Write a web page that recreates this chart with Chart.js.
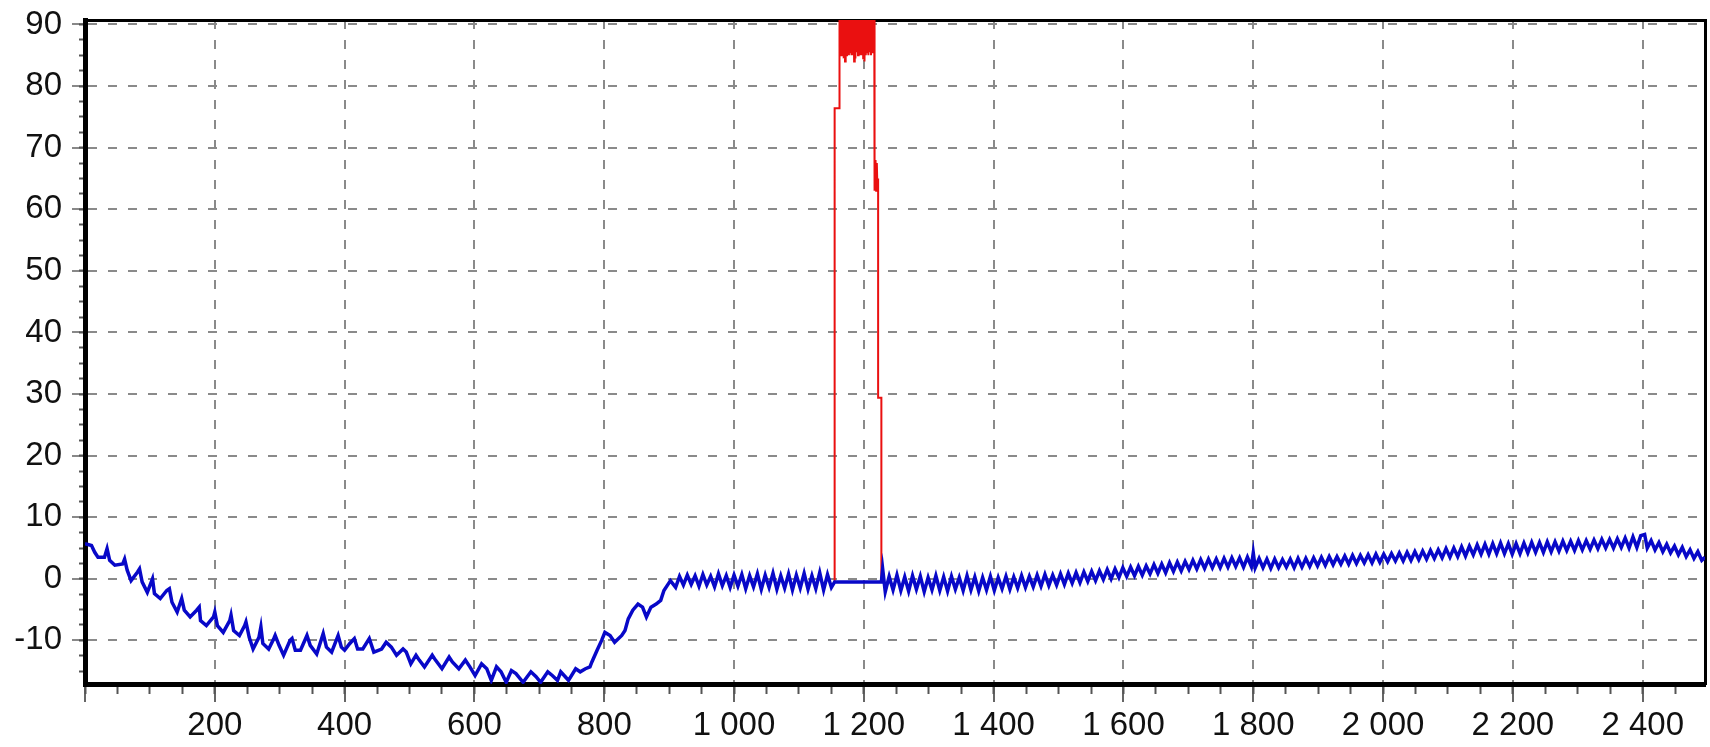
<!DOCTYPE html>
<html><head><meta charset="utf-8">
<script src="https://cdn.jsdelivr.net/npm/chart.js@4.4.1/dist/chart.umd.min.js"></script>
<style>html,body{margin:0;padding:0;background:#fff;overflow:hidden}canvas{display:block}</style>
</head><body>
<canvas id="c" width="1710" height="747"></canvas>
<script>
// ---- axis ranges and ticks ----
const X_MIN = 0, X_MAX = 2496;
const Y_MIN = -17.08, Y_MAX = 90.73;
const X_MAJOR = 200, X_MINOR = 50, Y_MAJOR = 10, Y_MINOR = 2.5;

// ---- blue series [x, y] ----
const blueLeft = [[0,5.7],[10,5.4],[15,4.3],[20,3.5],[30,3.5],[34,4.9],[38,3.0],[46,2.2],[58,2.4],[61,3.2],
[65,1.4],[71,-0.3],[81,1.1],[84,1.6],[88,-0.5],[96,-2.2],[104,0.0],[107,-2.4],[116,-3.2],[126,-1.9],
[130,-1.6],[134,-3.8],[142,-5.4],[149,-3.2],[153,-5.1],[162,-6.2],[172,-5.1],[176,-4.6],[178,-6.8],[187,-7.6],
[198,-6.2],[200,-5.4],[204,-7.6],[213,-8.7],[223,-6.8],[225,-5.9],[229,-8.4],[238,-9.2],[246,-7.6],[248,-7.0],
[253,-9.5],[259,-11.4],[268,-9.5],[271,-7.8],[274,-10.5],[283,-11.4],[291,-9.7],[293,-9.2],[299,-10.8],[306,-12.4],
[316,-10.0],[319,-9.7],[324,-11.6],[332,-11.6],[342,-9.2],[347,-10.8],[357,-12.2],[367,-8.9],[372,-11.1],[380,-11.9],
[390,-9.2],[395,-11.1],[400,-11.6],[408,-10.5],[415,-9.7],[420,-11.4],[428,-11.4],[438,-9.7],[445,-11.9],[457,-11.4],
[464,-10.3],[472,-11.1],[480,-12.4],[490,-11.4],[495,-11.9],[502,-13.8],[510,-12.4],[515,-13.2],[523,-14.3],[535,-12.4],
[540,-13.2],[550,-14.6],[561,-12.7],[566,-13.5],[576,-14.6],[586,-13.2],[593,-14.3],[601,-15.7],[611,-13.8],[619,-14.6],
[626,-16.5],[634,-14.3],[641,-15.1],[649,-16.8],[657,-14.9],[664,-15.4],[675,-16.8],[687,-15.1],[695,-15.9],[702,-16.8],
[713,-15.1],[720,-15.7],[728,-16.5],[733,-15.1],[740,-15.9],[745,-16.5],[756,-14.6],[763,-15.1],[771,-14.6],[778,-14.3],
[781,-13.5],[789,-11.6],[796,-10.0],[801,-8.7],[809,-9.2],[816,-10.3],[827,-9.2],[832,-8.4],[837,-6.5],[844,-5.1],
[852,-4.1],[859,-4.6],[865,-6.2],[872,-4.6],[880,-4.1],[887,-3.5],[892,-1.9],[902,-0.3],[910,-1.4]];

const blueMid = [[916,0.4],[922,-1.0],[928,0.6],[934,-0.9],[940,0.5],[946,-1.2],[952,0.7],[958,-1.0],[964,0.4],[970,-1.3],
[976,0.8],[982,-1.1],[988,0.5],[994,-1.4],[1000,0.6],[1006,-1.2],[1012,0.7],[1018,-1.6],[1024,0.5],[1030,-1.3],
[1036,0.8],[1042,-1.7],[1048,0.6],[1054,-1.4],[1060,0.9],[1066,-1.7],[1072,0.5],[1078,-1.5],[1084,0.8],[1090,-1.8],
[1096,0.6],[1102,-1.5],[1108,0.9],[1114,-1.7],[1120,0.5],[1126,-1.6],[1132,1.0],[1138,-1.8],[1144,0.7],[1150,-1.4],
[1155,-0.5],[1227,-0.5],[1229,1.6],[1233,-2.1],[1239,0.4],[1245,-1.8],[1251,0.6],[1257,-1.9],[1263,0.3],[1269,-2.0],
[1275,0.5],[1281,-1.7],[1287,0.4],[1293,-2.1],[1299,0.2],[1305,-1.8],[1311,0.5],[1317,-1.9],[1323,0.3],[1329,-2.0],
[1335,0.4],[1341,-1.7],[1347,0.2],[1353,-1.9],[1359,0.5],[1365,-1.8],[1371,0.3],[1377,-2.0],[1383,0.2],[1389,-1.8],
[1395,0.4],[1401,-1.9],[1407,0.2],[1413,-1.6],[1419,0.4],[1425,-1.7],[1431,0.3],[1437,-1.5],[1443,0.5],[1449,-1.4],
[1455,0.4],[1461,-1.3],[1467,0.6],[1473,-1.2],[1479,0.7],[1485,-1.1],[1491,0.6],[1497,-1.0],[1503,0.8],[1509,-0.9],
[1515,0.9],[1521,-0.7],[1527,1.0],[1533,-0.6],[1539,1.1],[1545,-0.4],[1551,1.2],[1557,-0.3],[1563,1.3],[1569,-0.1],
[1575,1.5],[1581,0.0],[1587,1.6],[1593,0.2],[1599,1.8]];

const blueRight = [[1605,0.4],[1611,1.9],[1617,0.5],[1623,2.0],[1629,0.6],[1635,2.1],[1641,0.8],[1647,2.3],[1653,0.9],[1659,2.4],
[1665,1.0],[1671,2.6],[1677,1.2],[1683,2.7],[1689,1.3],[1695,2.8],[1701,1.5],[1707,3.0],[1713,1.6],[1719,3.1],
[1725,1.7],[1731,3.2],[1737,1.8],[1743,3.2],[1749,1.8],[1755,3.3],[1761,1.9],[1767,3.4],[1773,2.0],[1779,3.4],
[1785,1.9],[1791,3.5],[1797,2.0],[1800,4.2],[1803,1.8],[1809,3.3],[1815,1.8],[1821,3.2],[1827,1.7],[1833,3.2],
[1839,1.8],[1845,3.1],[1851,1.9],[1857,3.2],[1863,1.8],[1869,3.3],[1875,1.9],[1881,3.3],[1887,2.0],[1893,3.4],
[1899,2.1],[1905,3.5],[1911,2.2],[1917,3.6],[1923,2.3],[1929,3.6],[1935,2.4],[1941,3.7],[1947,2.4],[1953,3.8],
[1959,2.5],[1965,3.8],[1971,2.6],[1977,3.9],[1983,2.6],[1989,4.0],[1995,2.7],[2001,4.0],[2007,2.8],[2013,4.1],
[2019,2.9],[2025,4.2],[2031,2.9],[2037,4.3],[2043,3.0],[2049,4.4],[2055,3.1],[2061,4.5],[2067,3.2],[2073,4.6],
[2079,3.3],[2085,4.7],[2091,3.4],[2097,4.9],[2103,3.5],[2109,5.0],[2115,3.6],[2121,5.2],[2127,3.7],[2133,5.3],
[2139,3.9],[2145,5.5],[2151,4.0],[2157,5.6],[2163,4.0],[2169,5.7],[2175,4.1],[2181,5.8],[2187,4.1],[2193,5.7],
[2199,4.0],[2205,5.7],[2211,4.1],[2217,5.8],[2223,4.2],[2229,5.9],[2235,4.3],[2241,5.9],[2247,4.3],[2253,6.0],
[2259,4.4],[2265,6.0],[2271,4.5],[2277,6.1],[2283,4.6],[2289,6.1],[2295,4.6],[2301,6.2],[2307,4.7],[2313,6.2],
[2319,4.8],[2325,6.3],[2331,4.9],[2337,6.4],[2343,5.0],[2349,6.4],[2355,5.0],[2361,6.5],[2367,5.1],[2373,6.6],
[2379,5.0],[2385,6.8],[2391,5.1],[2397,7.0],[2403,7.2],[2407,5.0],[2413,6.2],[2419,4.7],[2425,5.9],[2431,4.4],
[2437,5.6],[2443,4.2],[2449,5.3],[2455,3.9],[2461,5.1],[2467,3.6],[2473,4.7],[2479,3.3],[2485,4.4],[2491,3.0],[2496,3.5]];

// ---- red series [x, y] (only in the 1155..1227 window) ----
const redRise = [[1155,-0.5],[1155,76.4],[1162,76.4],[1162,95]];
const redTop = [[1163,85.5],[1164,95],[1165,85],[1166,95],[1167,85.5],[1168,95],[1169,84.5],[1170,95],[1171,84],[1172,95],
[1173,85],[1174,95],[1175,85.5],[1176,95],[1177,85],[1178,95],[1179,85.5],[1180,95],[1181,85],[1182,95],
[1183,85],[1184,95],[1185,84],[1186,95],[1187,84.5],[1188,95],[1189,85.5],[1190,95],[1191,85],[1192,95],
[1193,85.5],[1194,95],[1195,85],[1196,95],[1197,85],[1198,95],[1199,84.5],[1200,95],[1201,84],[1202,95],
[1203,85],[1204,95],[1205,85.5],[1206,95],[1207,85],[1208,95],[1209,85.5],[1210,95],[1211,85],[1212,95],
[1213,85.5],[1214,95],[1215,86],[1216,95]];
const redFall = [[1216,68],[1217,63],[1218,68],[1219,63],[1220,67.5],[1221,63],[1222,65],[1222,29.4],[1227,29.4],[1227,-0.5]];

const toPts = arr => arr.map(p => ({x: p[0], y: p[1]}));
const blueData = toPts(blueLeft.concat(blueMid, blueRight));
const redData = toPts(redRise.concat(redTop, redFall));

const FONT = {family: "'Liberation Sans', Arial, sans-serif", size: 33};
const inRange = s => { s.ticks = s.ticks.filter(t => t.value >= s.min - 1e-9 && t.value <= s.max + 1e-9); };
const thousands = v => String(v).replace(/\B(?=(\d{3})+(?!\d))/g, ' ');

new Chart(document.getElementById('c'), {
  type: 'line',
  data: {
    datasets: [
      {data: blueData, borderColor: '#0808c8', borderWidth: 3.5, pointRadius: 0, tension: 0, xAxisID: 'x', yAxisID: 'y', order: 1},
      {data: redData, borderColor: '#ea1010', borderWidth: 2, pointRadius: 0, tension: 0, xAxisID: 'x', yAxisID: 'y', order: 2}
    ]
  },
  options: {
    responsive: false, animation: false, devicePixelRatio: 1,
    layout: {autoPadding: false, padding: {left: 0, right: 5, top: 20, bottom: 0}},
    plugins: {legend: {display: false}, tooltip: {enabled: false}},
    scales: {
      x: {
        type: 'linear', position: 'bottom', min: X_MIN, max: X_MAX, weight: 2,
        ticks: {stepSize: X_MAJOR, includeBounds: false, autoSkip: false, maxRotation: 0, font: FONT, color: '#111', padding: 4,
                callback: v => v === 0 ? '' : thousands(v)},
        grid: {color: '#8a8a8a', lineWidth: 2, tickLength: 18, tickColor: '#666', tickWidth: 2},
        border: {color: '#000', width: 5, dash: [9, 11]},
        afterBuildTicks: inRange,
        afterFit: s => { s.height = 63; s.paddingLeft = 0; s.paddingRight = 0; }
      },
      xMinor: {
        type: 'linear', position: 'bottom', min: X_MIN, max: X_MAX, weight: 0,
        ticks: {stepSize: X_MINOR, includeBounds: false, display: false},
        grid: {drawOnChartArea: false, tickLength: 10, tickColor: '#555', tickWidth: 2},
        border: {display: false},
        afterBuildTicks: inRange,
        afterFit: s => { s.height = 0; s.paddingLeft = 0; s.paddingRight = 0; }
      },
      xTop: {
        type: 'linear', position: 'top', min: X_MIN, max: X_MAX,
        ticks: {display: false}, grid: {drawOnChartArea: false, drawTicks: false},
        border: {color: '#000', width: 3},
        afterFit: s => { s.height = 0; s.paddingLeft = 0; s.paddingRight = 0; }
      },
      y: {
        type: 'linear', position: 'left', min: Y_MIN, max: Y_MAX, weight: 2,
        ticks: {stepSize: Y_MAJOR, includeBounds: false, autoSkip: false, font: FONT, color: '#111', padding: 10,
                callback: v => String(v)},
        grid: {color: '#8a8a8a', lineWidth: 2, tickLength: 13, tickColor: '#888', tickWidth: 2},
        border: {color: '#000', width: 5, dash: [9, 11]},
        afterBuildTicks: inRange,
        afterFit: s => { s.width = 85; s.paddingTop = 0; s.paddingBottom = 0; }
      },
      yMinor: {
        type: 'linear', position: 'left', min: Y_MIN, max: Y_MAX, weight: 0,
        ticks: {stepSize: Y_MINOR, includeBounds: false, display: false},
        grid: {drawOnChartArea: false, tickLength: 6, tickColor: '#555', tickWidth: 2},
        border: {display: false},
        afterBuildTicks: inRange,
        afterFit: s => { s.width = 0; s.paddingTop = 0; s.paddingBottom = 0; }
      },
      yRight: {
        type: 'linear', position: 'right', min: Y_MIN, max: Y_MAX,
        ticks: {display: false}, grid: {drawOnChartArea: false, drawTicks: false},
        border: {color: '#000', width: 3},
        afterFit: s => { s.width = 0; s.paddingTop = 0; s.paddingBottom = 0; }
      }
    }
  }
});
</script>
</body></html>
